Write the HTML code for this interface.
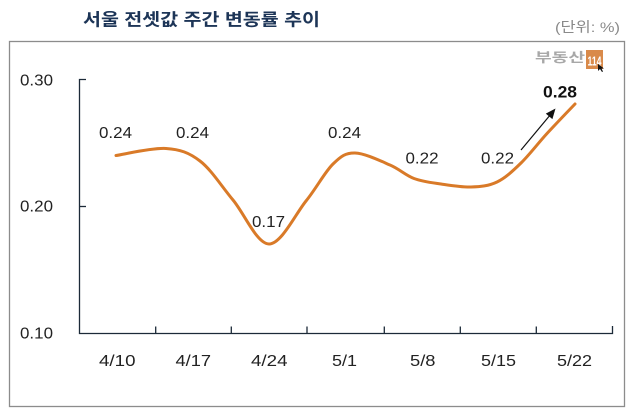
<!DOCTYPE html>
<html>
<head>
<meta charset="utf-8">
<style>
html,body{margin:0;padding:0;background:#fff;}
svg{display:block;}
</style>
</head>
<body>
<svg width="634" height="418" viewBox="0 0 634 418" xmlns="http://www.w3.org/2000/svg">
  <rect x="0" y="0" width="634" height="418" fill="#ffffff"/>
  <!-- Title -->
  <text x="83" y="25.5" font-family="'Liberation Sans','Noto Sans CJK KR',sans-serif" font-weight="bold" font-size="17" fill="#1d3557" textLength="237" lengthAdjust="spacingAndGlyphs">서울 전셋값 주간 변동률 추이</text>
  <text x="555" y="32" font-family="'Liberation Sans','Noto Sans CJK KR',sans-serif" font-size="14" fill="#8a8a8a" textLength="65" lengthAdjust="spacingAndGlyphs">(단위: %)</text>

  <!-- Frame -->
  <rect x="9.5" y="41.5" width="615" height="365" fill="none" stroke="#8c8c8c" stroke-width="1.3"/>

  <!-- Logo -->
  <text x="535" y="62" font-family="'Liberation Sans','Noto Sans CJK KR',sans-serif" font-weight="bold" font-size="13" fill="#a8a8a8" textLength="50" lengthAdjust="spacingAndGlyphs">부동산</text>
  <rect x="586" y="50" width="17" height="19" fill="#d98a4a"/>
  <text x="594.5" y="65.5" text-anchor="middle" font-family="'Liberation Sans',sans-serif" font-weight="bold" font-size="13" fill="#ffffff" textLength="14" lengthAdjust="spacingAndGlyphs">114</text>
  <path d="M598 64 L598 71 L600 69 L602 72 L603 71.5 L601.5 68.5 L604 68.5 Z" fill="#111"/>

  <!-- Axes -->
  <g stroke="#1c2a38" stroke-width="1.3" fill="none">
    <path d="M86 79.5 H79.5 V333.5 H612.5 V326"/>
    <path d="M79.5 206.5 H86"/>
    <path d="M155.7 333.5 V326.5 M231.3 333.5 V326.5 M307 333.5 V326.5 M384.3 333.5 V326.5 M460.3 333.5 V326.5 M536.3 333.5 V326.5"/>
  </g>

  <!-- Y labels -->
  <g font-family="'Liberation Sans',sans-serif" font-size="16" fill="#222">
    <text x="20" y="85.5" textLength="33" lengthAdjust="spacingAndGlyphs">0.30</text>
    <text x="20" y="211.5" textLength="33" lengthAdjust="spacingAndGlyphs">0.20</text>
    <text x="20" y="338.5" textLength="33" lengthAdjust="spacingAndGlyphs">0.10</text>
  </g>

  <!-- X labels -->
  <g font-family="'Liberation Sans',sans-serif" font-size="16" fill="#222">
    <text x="99" y="366" textLength="36.5" lengthAdjust="spacingAndGlyphs">4/10</text>
    <text x="175.5" y="366" textLength="35.5" lengthAdjust="spacingAndGlyphs">4/17</text>
    <text x="251" y="366" textLength="36.5" lengthAdjust="spacingAndGlyphs">4/24</text>
    <text x="332" y="366" textLength="25" lengthAdjust="spacingAndGlyphs">5/1</text>
    <text x="410" y="366" textLength="25.5" lengthAdjust="spacingAndGlyphs">5/8</text>
    <text x="481" y="366" textLength="35" lengthAdjust="spacingAndGlyphs">5/15</text>
    <text x="557" y="366" textLength="35" lengthAdjust="spacingAndGlyphs">5/22</text>
  </g>

  <!-- Series -->
  <path d="M116 155.5 C124.3 154.3 152 147.6 166 148.5
           C180 149.4 188.8 152.4 200 161
           C211.2 169.6 221.5 186.2 233 200
           C244.5 213.8 256.8 243.8 269 244
           C281.2 244.2 295.3 214.3 306 201
           C316.7 187.7 324.8 172 333 164
           C341.2 156 345.5 152.8 355 153
           C364.5 153.2 380.2 160.75 390 165
           C399.8 169.25 405.5 175.3 414 178.5
           C422.5 181.7 431.5 182.6 441 184
           C450.5 185.4 461.7 187.3 471 187
           C480.3 186.7 488.7 186 497 182
           C505.3 178 512.7 171.1 521 163
           C529.3 154.9 538 143.3 547 133.5
           C556 123.7 570.3 108.9 575 104"
        fill="none" stroke="#d97a28" stroke-width="3" stroke-linecap="round" stroke-linejoin="round"/>

  <!-- Data labels -->
  <g font-family="'Liberation Sans',sans-serif" font-size="16" fill="#222">
    <text x="99" y="138" textLength="33" lengthAdjust="spacingAndGlyphs">0.24</text>
    <text x="176" y="138" textLength="33" lengthAdjust="spacingAndGlyphs">0.24</text>
    <text x="252" y="227" textLength="33" lengthAdjust="spacingAndGlyphs">0.17</text>
    <text x="328" y="138" textLength="33" lengthAdjust="spacingAndGlyphs">0.24</text>
    <text x="405.5" y="163.5" textLength="33" lengthAdjust="spacingAndGlyphs">0.22</text>
    <text x="481" y="163.5" textLength="33" lengthAdjust="spacingAndGlyphs">0.22</text>
  </g>
  <text x="543" y="97.5" font-family="'Liberation Sans',sans-serif" font-weight="bold" font-size="17" fill="#111" textLength="34" lengthAdjust="spacingAndGlyphs">0.28</text>

  <!-- Arrow -->
  <line x1="521" y1="150" x2="551" y2="114" stroke="#111" stroke-width="1.2"/>
  <path d="M555.5 108.5 L545.8 113.6 L552.4 119.1 Z" fill="#111"/>
</svg>
</body>
</html>
